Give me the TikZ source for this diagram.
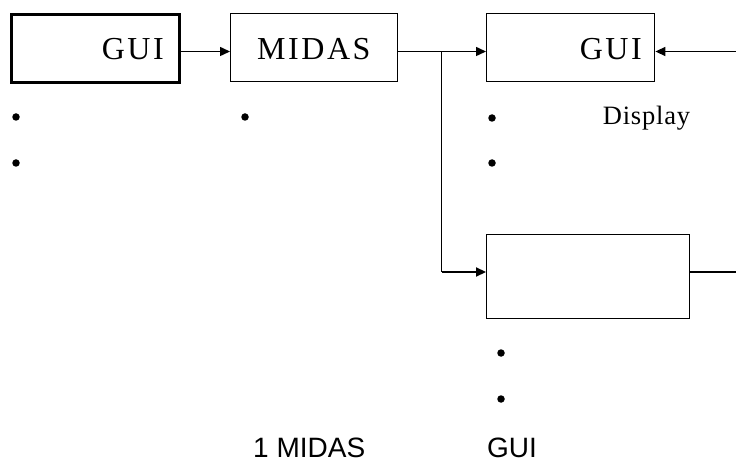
\documentclass[tikz,border=0pt]{standalone}
\usepackage{fontspec}
\setmainfont{Liberation Serif}
\newfontfamily\trackedfont{Liberation Serif}[LetterSpace=8]
\newfontfamily\dispfont{Liberation Serif}[LetterSpace=3]
\newfontfamily\arialfont{Liberation Sans}
\usetikzlibrary{arrows.meta}
\begin{document}
\begin{tikzpicture}[x=1pt,y=-1pt,
  box/.style={draw, line width=1.4pt, inner sep=0pt, anchor=north west},
  thickbox/.style={box, line width=3pt},
  conn/.style={line width=1.5pt, -{Triangle[length=10pt,width=9pt]}},
  plain/.style={line width=1.5pt},
  bigtxt/.style={inner sep=0pt, font=\trackedfont\fontsize{32}{38}\selectfont},
  disptxt/.style={inner sep=0pt, font=\dispfont\fontsize{26.5}{30}\selectfont},
  captxt/.style={inner sep=0pt, font=\arialfont\fontsize{28}{32}\selectfont},
  bul/.style={circle, fill=black, inner sep=0pt, minimum size=7.5pt}]
\useasboundingbox (0,0) rectangle (736,462);
% boxes
\node[thickbox, minimum width=168pt, minimum height=68pt] (gui1) at (10,13) {};
\node[box, minimum width=167pt, minimum height=68pt] (midas) at (230,13) {};
\node[box, minimum width=168pt, minimum height=68pt] (gui2) at (486,13) {};
\node[box, minimum width=203pt, minimum height=84pt] (blank) at (486,234) {};
% texts
\node[bigtxt, anchor=base east] (t1) at (164,59.3) {GUI};
\node[bigtxt, anchor=base west] (t2) at (257,59.3) {MIDAS};
\node[bigtxt, anchor=base east] (t3) at (642,59.3) {GUI};
\node[disptxt, anchor=base west] (t4) at (602.7,125) {Display};
\node[captxt, anchor=base west] (t5) at (253,457) {1 MIDAS};
\node[captxt, anchor=base west] (t6) at (487,457) {GUI};
% bullets
\node[bul] (b1) at (16,117) {};
\node[bul] (b2) at (16,163) {};
\node[bul] (b3) at (245,117) {};
\node[bul] (b4) at (492,118) {};
\node[bul] (b5) at (492,163) {};
\node[bul] (b6) at (501,353) {};
\node[bul] (b7) at (501,399) {};
% connector rows
\coordinate (row1) at (0,51.5);
\coordinate (row2) at (0,272);
\coordinate (j) at (441.7,51.5);
\coordinate (k) at (441.7,272);
\coordinate (rin) at (736,51.5);
\coordinate (rout) at (736,272);
\draw[conn] (gui1.east |- row1) -- (midas.west |- row1);
\draw[conn] (midas.east |- row1) -- (gui2.west |- row1);
\draw[plain] (j) -- (k);
\draw[conn, line width=2.2pt] (k) -- (blank.west |- row2);
\draw[conn] (rin) -- (gui2.east |- row1);
\draw[plain] (blank.east |- row2) -- (rout);
\end{tikzpicture}
\end{document}
